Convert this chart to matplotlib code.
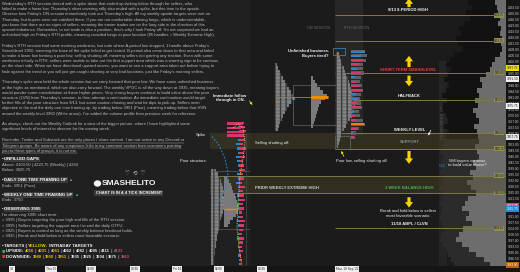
import numpy as np
import matplotlib
matplotlib.use('Agg')
import matplotlib.pyplot as plt
from matplotlib.lines import Line2D
from matplotlib.patches import Rectangle, Ellipse

plt.rcParams['font.family'] = ['Liberation Sans', 'DejaVu Sans']

# ── Data ──
price_top, price_bot = 4037.6, 3882.4

level_prices = [4028.75, 4013.75, 3995.0, 3979.25, 3960.0, 3950.75, 3935.0, 3925.0, 3904.5]
level_start = [335, 335, 335, 335, 335, 335, 210, 210, 335]
band_lo = [3950.75, 3925.0]
band_hi = [3960.0, 3935.0]

# right side volume profile (current week, light gray) and prior week (dark)
vp_prices = [4036, 4033, 4030, 4027, 4024, 4021, 4018, 4015, 4012, 4009, 4006, 4003, 4000,
             3997, 3994, 3991, 3988, 3985, 3982, 3979, 3976, 3973, 3970, 3967, 3964, 3961,
             3958, 3955, 3952, 3949, 3946, 3943, 3940, 3937, 3934, 3931, 3928, 3925, 3922,
             3919, 3916, 3913, 3910, 3907, 3904, 3901, 3898, 3895, 3892, 3889, 3886, 3883]
vp_cur = [11, 9, 8, 6, 8, 5, 6, 4, 5, 4, 6, 11, 14,
          16, 20, 26, 24, 29, 27, 31, 28, 33, 30, 27, 32, 29,
          28, 27, 31, 29, 27, 33, 30, 36, 33, 39, 35, 30, 38,
          41, 44, 37, 40, 34, 43, 47, 50, 44, 37, 30, 22, 16]
vp_prior = [38, 34, 40, 36, 42, 47, 45, 50, 48, 44, 52, 56, 60,
            55, 58, 62, 57, 60, 64, 59, 63, 66, 60, 58, 62, 57,
            60, 62, 64, 66, 63, 65, 64, 66, 62, 64, 66, 63, 65,
            66, 64, 65, 66, 64, 62, 65, 66, 63, 60, 58, 55, 52]

# Thursday RTH TPO
tpo_a_prices = [3938, 3936, 3934, 3932, 3930, 3928, 3926, 3924, 3922, 3920, 3918, 3916, 3914, 3912,
                3910, 3908, 3906, 3904, 3902, 3900, 3898, 3896, 3894, 3892, 3890, 3888, 3886, 3884]
tpo_a_width = [5, 7, 8, 10, 11, 12, 13, 12, 14, 15, 14, 13, 12, 11,
               10, 9, 9, 8, 7, 6, 6, 5, 5, 4, 4, 3, 3, 3]
vp_a_prices = [3934, 3932, 3930, 3928, 3926, 3924, 3922, 3920, 3918, 3916, 3914, 3912, 3910, 3908, 3906]
vp_a_width = [3, 5, 7, 8, 9, 11, 12, 13, 15, 17, 14, 12, 9, 6, 4]
vp_a_poc = 3915.6

# footprint column
fp_prices = [3966, 3963.5, 3961, 3958.5, 3956, 3953.5, 3951, 3948.5, 3946, 3943.5, 3941, 3938.5,
             3936, 3933.5, 3931, 3928.5, 3926, 3923.5, 3921, 3918.5, 3916, 3913.5, 3911, 3908.5,
             3906, 3903.5, 3901, 3898.5, 3896, 3893.5, 3891, 3888.5, 3886, 3883.5]
fp_buy = [0, 2, 1, 3, 2, 4, 3, 2, 4, 3, 2, 1, 3, 2, 4, 2, 1, 3, 2, 4, 3, 1, 2, 3, 2, 1, 2, 3, 1, 2, 1, 2, 1, 1]
fp_sell = [4, 5, 6, 4, 5, 3, 6, 4, 5, 3, 4, 5, 3, 4, 2, 5, 3, 4, 5, 3, 4, 2, 3, 5, 4, 3, 2, 4, 3, 2, 3, 1, 2, 1]
spike_prices = [3965.5, 3963, 3960.5, 3958.5]
spike_width = [16, 14, 17, 12]

# Friday ON TPO + volume
tpo_b_prices = [4000, 3998, 3996, 3994, 3992, 3990, 3988, 3986, 3984, 3982, 3980,
                3978, 3976, 3974, 3972, 3970, 3968, 3966, 3964, 3962]
tpo_b_width = [2, 3, 5, 6, 8, 10, 12, 14, 16, 18, 20, 17, 14, 12, 10, 8, 7, 5, 4, 3]
vp_b_prices = [3992, 3990, 3988, 3986, 3984, 3982, 3980, 3978, 3976, 3974, 3972, 3970, 3968, 3966, 3964]
vp_b_width = [2, 4, 6, 9, 12, 16, 14, 10, 8, 7, 6, 5, 4, 3, 2]
on_poc = 3981.0

# Friday RTH TPO
tpo_c_prices = [4006, 4004, 4002, 4000, 3998, 3996, 3994, 3992, 3990, 3988, 3986, 3984, 3982, 3980,
                3978, 3976, 3974, 3972, 3970, 3968, 3966, 3964, 3962, 3960, 3958, 3956, 3954, 3952]
tpo_c_width = [3, 4, 5, 6, 8, 9, 10, 12, 13, 14, 15, 16, 18, 18,
               20, 19, 18, 17, 16, 14, 12, 10, 8, 6, 5, 4, 3, 2]

# Friday RTH volume with delta
vp_d_prices = [4007.5, 4005, 4002.5, 4000, 3997.5, 3995, 3992.5, 3990, 3987.5, 3985, 3982.5,
               3980, 3977.5, 3975, 3972.5, 3970, 3967.5, 3965, 3962.5, 3960, 3957.5]
vp_d_vol = [14, 16, 15, 12, 12, 13, 10, 9, 11, 12, 10, 9, 10, 11, 8, 9, 12, 14, 8, 5, 4]
vp_d_delta = [14, 10, -12, -8, 6, -10, 4, -5, -9, -11, 5, 7, -6, -10, 3, -4, -5, -12, -6, 2, -3]
rth_poc = 3965.0

# anchored vwap style curves
vw_blue_t = [212, 219, 225, 228, 226, 220, 213]
vw_blue_p = [3958, 3953, 3945, 3937, 3928, 3921, 3917]
vw_yel_t = [233, 238, 243, 245, 243, 240, 238, 237, 239, 242]
vw_yel_p = [3963, 3965.5, 3963, 3955, 3945, 3935, 3920, 3905, 3893, 3882.5]

price_ticks = np.arange(3883.0, 4037.0, 3.5)
time_ticks = [12, 51, 91, 135, 177, 219, 262, 347]
time_labels = ["14", "Thu 15", "02:00", "09:30", "Fri 16", "02:00", "09:30", "Mon 19 Sep '22"]

axis_marks = [(3997.9, '3997.75', '#f0e000', '#111111'),
              (3991.5, '3991.50', '#f2f2f2', '#111111'),
              (3975.75, '3975.75', '#f2f2f2', '#111111'),
              (3957.7, '3957.75', '#e6e6e6', '#111111'),
              (3917.4, '3917.25', '#e23d86', '#ffffff'),
              (3915.65, '3915.75', '#1f8fd6', '#ffffff'),
              (3883.0, '3883.00', '#b8640e', '#ffffff')]

W, H = 520, 272
fig = plt.figure(figsize=(5.2, 2.72), dpi=100, facecolor='#151515')
ax = fig.add_axes([0, 6 / H, 506 / W, 266 / H])
ax.set_xlim(0, 506)
ax.set_ylim(price_bot, price_top)
ax.set_facecolor('#1b1b1b')
for s in ax.spines.values():
    s.set_visible(False)

# backgrounds
ax.axvspan(0, 250, color='#202020', zorder=0, lw=0)
ax.fill_between([335, 363], 3958, price_top, color='#272727', zorder=0, lw=0)
ax.fill_between([439, 447], price_bot, 4002, color='#242424', zorder=0.5, lw=0)

# right volume profiles
up = np.array(vp_prices) > 3957
ax.barh(vp_prices, -np.array(vp_prior), left=506, height=3, color=np.where(up, '#121212', '#2b2b2b'),
        lw=0, zorder=1)
ax.barh(vp_prices, -np.array(vp_cur), left=506, height=3, color='#6d6d6d', lw=0, zorder=1.2)
ax.text(443, 3966, 'PRIOR WEEK VP', rotation=90, fontsize=3, color='#4a4a4a', ha='center', va='center',
        fontweight='bold', zorder=1.3)

# bands and levels
for lo, hi in zip(band_lo, band_hi):
    ax.fill_between([210, 506], lo, hi, color='#4a4628', alpha=0.45, lw=0, zorder=1.5)
for p, x0 in zip(level_prices, level_start):
    ax.hlines(p, x0, 506, color='#7c7a46', lw=0.7, zorder=2)
    ax.text(504, p, f'{p:.2f}', fontsize=1.9, color='#1b1b1b', ha='right', va='center', zorder=6,
            bbox=dict(boxstyle='square,pad=0.15', fc='#8f8c55', ec='none'))

# TPO profiles
tpo_kw = dict(height=2, color='#858585', edgecolor='#3a3a3a', hatch='|||', lw=0.2, zorder=3)
ax.barh(tpo_a_prices, tpo_a_width, left=211, **tpo_kw)
ax.barh(tpo_b_prices, tpo_b_width, left=275, **tpo_kw)
ax.barh(tpo_c_prices, tpo_c_width, left=336, **tpo_kw)

ax.barh(vp_a_prices, vp_a_width, left=224, height=2, color='#7a7a7a', lw=0, zorder=3)
ax.hlines(vp_a_poc, 224, 241, color='#f08a00', lw=1.0, zorder=4)
ax.hlines(3937.6, 210, 250, color='#5a5a5a', lw=0.5, zorder=2.5)
ax.hlines(3904.0, 213, 250, color='#5a5a5a', lw=0.5, zorder=2.5)

ax.barh(fp_prices, -np.array(fp_buy), left=240, height=1.4, color='#2a86c8', lw=0, zorder=4)
ax.barh(fp_prices, fp_sell, left=240, height=1.4, color='#d9366f', lw=0, zorder=4)
ax.barh(spike_prices, spike_width, left=227, height=1.3, color='#d9366f', lw=0, zorder=4)
ax.vlines(246, price_bot, 3960, color='#4a4a4a', lw=0.5, zorder=2.5)

ax.barh(vp_b_prices, vp_b_width, left=311, height=2, color='#7a7a7a', lw=0, zorder=3)
ax.hlines(on_poc, 275, 311, color='#c86a00', lw=0.7, zorder=4)
ax.hlines(on_poc, 311, 328, color='#ff8c00', lw=2.0, zorder=4)
ax.add_patch(Rectangle((293, 3964.7), 44, 23.3, fill=False, ec='#6a6a6a', lw=0.5, zorder=2.6))
ax.add_patch(Rectangle((333, 4005.5), 12, 4.1, fill=False, ec='#3b7fb0', lw=0.6, zorder=4))
ax.add_patch(Rectangle((335, 3950.7), 15, 7.5, fill=False, ec='#6a6a6a', lw=0.5, zorder=2.6))

ax.barh(vp_d_prices, vp_d_vol, left=351, height=1.8, color='#5e5e5e', lw=0, zorder=3)
d = np.array(vp_d_delta)
ax.barh(vp_d_prices, np.abs(d), left=351, height=1.2, color=np.where(d > 0, '#2a86c8', '#d9366f'),
        lw=0, zorder=3.5)
ax.hlines(rth_poc, 351, 364, color='#ff8c00', lw=1.2, zorder=4)

ax.plot(vw_blue_t, vw_blue_p, color='#2a86c8', lw=0.7, ls=(0, (2, 1.5)), zorder=4)
ax.plot(vw_yel_t, vw_yel_p, color='#e8c23a', lw=0.7, ls=(0, (1, 1.2)), zorder=4)

# big yellow arrows
arrows = [(409, 4033.5, 4038.5), (409, 3998.5, 4005.0), (409, 3993.5, 3987.2),
          (409, 3949.5, 3942.0), (409, 3922.5, 3916.5)]
for x, p0, p1 in arrows:
    ax.annotate('', xy=(x, p1), xytext=(x, p0), annotation_clip=False,
                arrowprops=dict(arrowstyle='simple,head_length=0.6,head_width=0.9,tail_width=0.35',
                                color='#f5d400', lw=0, shrinkA=0, shrinkB=0, mutation_scale=6.5), zorder=6)
ax.annotate('', xy=(254, 3975.0), xytext=(248, 3980.0),
            arrowprops=dict(arrowstyle='-|>', color='#f5d400', lw=0.6, mutation_scale=3))
ax.annotate('', xy=(340, 3951.0), xytext=(345, 3945.0),
            arrowprops=dict(arrowstyle='-|>', color='#f5d400', lw=0.6, mutation_scale=3))
ax.annotate('', xy=(427, 3957.0), xytext=(432, 3963.0),
            arrowprops=dict(arrowstyle='-|>', color='#e0e0e0', lw=0.6, mutation_scale=3))

# chart notes
lbl = dict(fontsize=3.0, fontweight='bold', ha='center', va='center', zorder=7,
           family=['Liberation Sans Narrow', 'Liberation Sans', 'DejaVu Sans'])
ax.text(408, 4031.5, '9/13 8-PERIOD HIGH', color='#f0f0f0', **lbl)
ax.text(408.5, 3996.75, 'SHORT-TERM SMASHLEVEL', color='#e8413c', **lbl)
ax.text(409, 3981.3, 'HALFBACK', color='#f0f0f0', **lbl)
ax.text(409.5, 3961.7, 'WEEKLY LEVEL', color='#f0f0f0', **lbl)
ax.text(409.5, 3955.0, 'SUPPORT', color='#8a8a8a', **lbl)
ax.text(409.5, 3927.9, '3 WEEK BALANCE HIGH', color='#4cb050', **lbl)
ax.text(287, 3927.9, 'PRIOR WEEKLY EXTREME HIGH', color='#cfcfcf', **lbl)
ax.text(409.5, 3906.9, '11/18 ABPL / CLVN', color='#f0f0f0', **lbl)
sess = dict(lbl, fontsize=2.7, fontweight='normal')
ax.text(319, 4021.3, 'ON SESSION', color='#6a6a6a', **sess)
ax.text(357, 4021.3, 'RTH SESSION', color='#6a6a6a', **sess)

note = dict(fontsize=3.0, color='#f2f2f2', va='center', zorder=7, linespacing=1.1,
            family=['Liberation Sans Narrow', 'Liberation Sans', 'DejaVu Sans'])
ax.text(329, 4006.4, 'Unfinished business.\nBuyers tired?', ha='right', fontweight='bold', **note)
ax.text(230, 3980.3, 'Immediate follow\nthrough in ON.', ha='center', fontweight='bold', **note)
ax.text(201, 3958.8, 'Spike', ha='center', **note)
ax.text(194, 3943.7, 'Poor structure.', ha='center', **note)
ax.text(272, 3954.2, 'Selling shutting off.', ha='center', **note)
ax.text(336, 3943.7, 'Poor low, selling shutting off.', ha='left', **note)
ax.text(467, 3942.5, 'Will buyers continue\nto build value above?', ha='center', **note)
ax.text(442, 3940.7, 'C18', ha='center', fontsize=2.6, color='#2a86c8', va='center', zorder=7)
ax.text(408, 3913.0, 'Break and hold below is sellers\nmost favorable scenario.', ha='center', **note)

# price axis
ax.yaxis.tick_right()
ax.set_yticks(price_ticks)
ax.set_yticklabels([f'{v:.2f}' for v in price_ticks])
ax.tick_params(axis='y', length=0, pad=1.2, labelsize=2.3, labelcolor='#d0d0d0')
for p, txt, fc, tc in axis_marks:
    ax.text(507, p, txt, fontsize=2.3, color=tc, ha='left', va='center', clip_on=False, zorder=8,
            bbox=dict(boxstyle='square,pad=0.2', fc=fc, ec='none'))
ax.set_xticks(time_ticks)
ax.set_xticklabels(time_labels)
ax.tick_params(axis='x', length=0, pad=0.8, labelsize=2.3, labelcolor='#222222')
for t in ax.get_xticklabels():
    t.set_bbox(dict(boxstyle='square,pad=0.3', fc='#f0f0f0', ec='none'))

# ── left text panel ──
renderer = fig.canvas.get_renderer()
TXT = '#bdbdbd'
FS = 3.0


def ftext(x, y, s, **kw):
    kw.setdefault('fontsize', FS)
    kw.setdefault('color', TXT)
    return fig.text(x / W, 1 - y / H, s, va='center', ha='left', **kw)


def seq(x, y, parts, **kw):
    for s, c in parts:
        t = ftext(x, y, s, color=c, **kw)
        x += t.get_window_extent(renderer).width
    return x


paragraphs = [
    (4.0, ["Wednesday's RTH session closed with a spike down that ended up lacking follow through for sellers, who",
           "failed to make a lower low. Thursday's short covering rally also ended with a spike, but this time to the upside.",
           "Observe how Friday's ON session immediately took out Thursday's high. All my weekly upside targets were met on",
           "Thursday, but buyers were not satisfied there. If you are not comfortable chasing longs, which is understandable,",
           "you know that there are no signs of sellers, meaning the easier trades are on the long side in the direction of this",
           "upward imbalance. Remember, to not trade is also a position, that's why I took Friday off. I'm not surprised we had an",
           "unfinished high on Friday's RTH profile, meaning crowded longs at poor location (85 handles > Weekly Extreme High)."]),
    (45.5, ["Friday's RTH session had some morning weakness, but note where A-period low stopped, 1 handle above Friday's",
            "Smashlevel 3950, meaning the base of the spike failed to get tested. B-period also came down to that area and failed",
            "to make a lower low forming a poor low, selling shutting off, meaning sellers not gaining any traction. Even with some",
            "weakness initially in RTH, sellers were unable to take out the first support area which was a warning sign to be cautious",
            "on the short side. When we have directional upward moves, you want to see a support area taken out before trying to",
            "fade against the trend or you will just get caught shorting at very bad locations, just like Friday's morning sellers."]),
    (82.5, ["Thursday's spike area held the whole session but we carry forward that poor low. We have some unfinished business",
            "at the highs as mentioned, which we also carry forward. The weekly VPOC is all the way down at 3935, meaning buyers",
            "would ponder some consolidation at these higher prices. Very strong buyers continue to build value above the poor",
            "structure (LVN) from Thursday's session, to then attempt a continuation. An immediate continuation would target",
            "further fills of the poor structure from 9/13, but some caution chasing and wait for dips to pick up. Sellers main",
            "objective is the end the daily one time framing up, by trading below 3951 (Poor), meaning trading below that HVN",
            "around the weekly level 3960 (White arrow). I've added the volume profile from previous week for reference."]),
    (123.5, ["As always, check out the Weekly Outlook for a view of the bigger picture, where I have highlighted some",
             "significant levels of interest to observe for the coming week."]),
]
LS = 5.2
for y0, lines in paragraphs:
    for i, s in enumerate(lines):
        ftext(1.5, y0 + i * LS, s)

for i, s in enumerate(["Reminder, Twitter and Substack are the only places I share content. I am not active in any Discord or",
                       "Telegram groups. Be aware of any suspicious links in my comment section from scammers pointing",
                       "you to these types of groups, it is not me."]):
    y = 140.5 + i * LS
    t = ftext(1.5, y, s)
    w = t.get_window_extent(renderer).width
    fig.add_artist(Line2D([1.5 / W, (1.5 + w) / W], [1 - (y + 2.0) / H] * 2, color=TXT, lw=0.3))

HB = dict(fontweight='bold', fontsize=3.2)
hbox = dict(boxstyle='square,pad=0.15', fc='#3a3a3a', ec='none')


def header(y, s, tail=None):
    x = seq(1.5, y, [('\u25aa ', '#f0f0f0')], **HB)
    t = ftext(x, y, s, color='#f4f4f4', bbox=hbox, **HB)
    if tail:
        x += t.get_window_extent(renderer).width + 1.5
        ftext(x, y, tail, color='#4cb050', fontsize=3.0)


header(159.3, 'UNFILLED GAPS')
ftext(1.5, 164.7, 'Above: 4103.50 | 4220.75 (Weekly) | 4264')
ftext(1.5, 170.0, 'Below: 3825.75')
header(180.0, 'DAILY ONE TIME FRAMING UP', '\u25b2')
ftext(1.5, 185.5, 'Ends: 3951 (Poor)')
header(195.0, 'WEEKLY ONE TIME FRAMING UP', '\u25b2')
ftext(1.5, 200.3, 'Ends: 3750')
header(209.5, 'OBSERVING 3995')
bullets = ["I'm observing 3995 short term.",
           "> 3995 | Buyers targeting the poor high and fills of the RTH session.",
           "> 3995 | Sellers targeting the support area / to end the daily OTFU.",
           "> 3925 | Buyers in control as long as the weekly balance breakout holds.",
           "> 3925 | Break and hold below is sellers most favorable scenario."]
for i, s in enumerate(bullets):
    ftext(1.5, 215.0 + i * 5.3, s)

seq(1.5, 245.7, [('\u25aa ', '#f0f0f0'), ('TARGETS | ', '#f4f4f4'), ('YELLOW:', '#f2d000'),
                 (' INTRADAY TARGETS', '#f4f4f4')], **HB)
upside = ['4016', '4031', '4051', '4062', '4082', '4095', '4111', '4131']
downside = ['3980', '3960', '3951', '3935', '3925', '3904', '3875', '3863']
for y, sq, name, vals in [(251.2, '#3cb043', 'UPSIDE: ', upside), (256.8, '#e53935', 'DOWNSIDE: ', downside)]:
    x = seq(1.5, y, [('\u25a0 ', sq)], fontsize=4.0)
    x = seq(x, y, [(name, '#f4f4f4')], **HB)
    parts = []
    for i, v in enumerate(vals):
        c = '#e8c200' if i < 3 else ('#e0457b' if i == len(vals) - 1 else '#e8e8e8')
        parts.append((v, c))
        if i < len(vals) - 1:
            parts.append((' | ', '#9a9a9a'))
    seq(x, y, parts, fontsize=3.0, fontweight='bold')

# branding
ftext(125, 173.0, '\u2661  \u27f2  \u2661', color='#cfcfcf', fontsize=4.0)
fig.add_artist(Ellipse((97.5 / W, 1 - 183.5 / H), 6 / W, 5 / H, color='#f4f4f4'))
ftext(102, 183.5, 'SMASHELITO', color='#f4f4f4', fontsize=6.0, fontweight='bold',
      family=['Liberation Sans Narrow', 'Liberation Sans'])
ftext(95.5, 193.0, 'CHART IS IN A 4 TICK INCREMENT', color='#f0f0f0', fontsize=2.9, fontweight='bold',
      bbox=dict(boxstyle='square,pad=0.35', fc='#3c3c3c', ec='none'))

fig.savefig('out.png', dpi=100, facecolor=fig.get_facecolor())
